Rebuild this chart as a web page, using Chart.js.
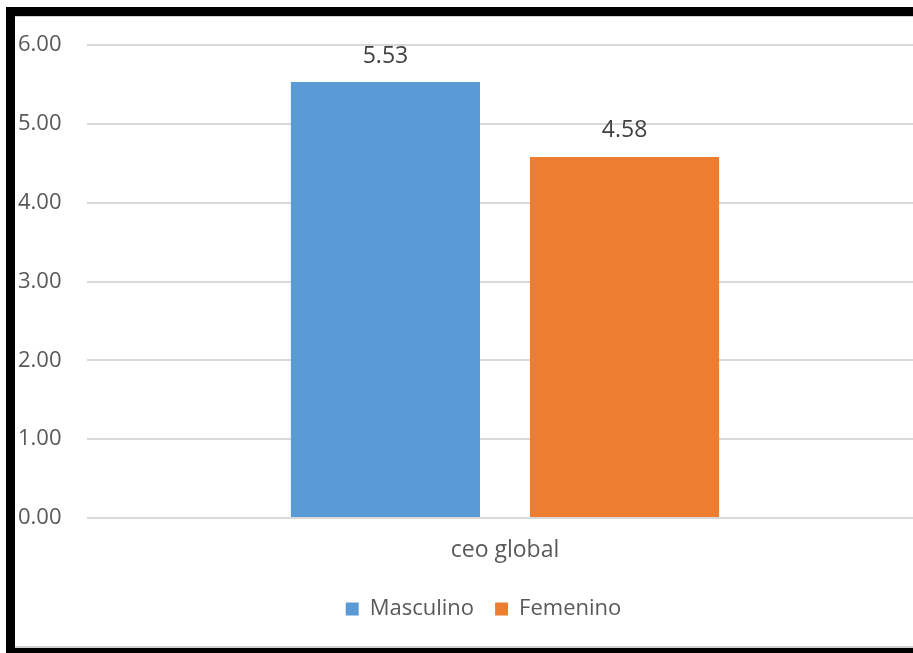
<!DOCTYPE html>
<html>
<head>
<meta charset="utf-8">
<script src="https://cdn.jsdelivr.net/npm/chart.js@4.4.1/dist/chart.umd.min.js"></script>
<style>
  html, body { margin: 0; padding: 0; background: #fff; overflow: hidden; }
  #wrap { position: relative; width: 913px; height: 653px; overflow: hidden; background: #fff; }
  #c { position: absolute; left: 0; top: 0; }
  .bk { position: absolute; background: #000; }
</style>
</head>
<body>
<div id="wrap">
  <canvas id="c" width="930" height="647"></canvas>
  <div class="bk" style="left:6px;top:7px;width:9px;height:646px;"></div>
  <div class="bk" style="left:6px;top:7px;width:907px;height:9px;"></div>
  <div style="position:absolute;left:15px;top:16px;width:898px;height:1px;background:#d0d0d0;"></div>
  <div style="position:absolute;left:15px;top:646px;width:898px;height:2px;background:#d0d0d0;"></div>
  <div class="bk" style="left:6px;top:648px;width:907px;height:5px;"></div>
</div>
<script>
const categories = ["ceo global"];
const seriesNames = ["Masculino", "Femenino"];
const masculino = [5.53];
const femenino = [4.58];
const yTicks = [0, 1, 2, 3, 4, 5, 6];

const FONT = "'Open Sans', 'Liberation Sans', sans-serif";

const valueLabels = {
  id: 'valueLabels',
  afterDatasetsDraw(chart) {
    const ctx = chart.ctx;
    ctx.save();
    ctx.font = "23px " + FONT;
    ctx.fillStyle = '#404040';
    ctx.textAlign = 'center';
    ctx.textBaseline = 'middle';
    chart.data.datasets.forEach((ds, i) => {
      const meta = chart.getDatasetMeta(i);
      meta.data.forEach((el, j) => {
        ctx.fillText(ds.data[j].toFixed(2), el.x, el.y - 26);
      });
    });
    ctx.restore();
  }
};

const shiftLegend = {
  id: 'shiftLegend',
  afterLayout(chart) {
    if (chart.legend) { chart.legend.left += 13; chart.legend.right += 13; }
  }
};

new Chart(document.getElementById('c'), {
  type: 'bar',
  data: {
    labels: categories,
    datasets: [
      { label: seriesNames[0], data: masculino, backgroundColor: '#5B9BD5', borderWidth: 0,
        categoryPercentage: 0.572, barPercentage: 0.791 },
      { label: seriesNames[1], data: femenino, backgroundColor: '#ED7D31', borderWidth: 0,
        categoryPercentage: 0.572, barPercentage: 0.791 }
    ]
  },
  options: {
    responsive: false,
    animation: false,
    devicePixelRatio: 1,
    layout: { padding: { left: 18, right: 7, top: 45, bottom: 17 } },
    plugins: {
      legend: {
        position: 'bottom',
        labels: {
          font: { family: FONT, size: 22 },
          color: '#595959',
          boxWidth: 13,
          boxHeight: 13,
          padding: 21
        }
      },
      tooltip: { enabled: false }
    },
    scales: {
      x: {
        grid: { display: false, drawTicks: false },
        border: { display: false },
        ticks: { font: { family: FONT, size: 23 }, color: '#595959', padding: 19 },
        afterFit(scale) { scale.height = 59; }
      },
      y: {
        min: 0, max: 6,
        afterBuildTicks(scale) { scale.ticks = yTicks.map(v => ({ value: v })); },
        grid: { color: '#d9d9d9', lineWidth: 2, drawTicks: false },
        border: { display: false },
        ticks: {
          font: { family: FONT, size: 22 },
          color: '#595959',
          crossAlign: 'far',
          callback: (v) => Number(v).toFixed(2)
        },
        afterFit(scale) { scale.width = 69; }
      }
    }
  },
  plugins: [valueLabels, shiftLegend]
});
</script>
</body>
</html>
